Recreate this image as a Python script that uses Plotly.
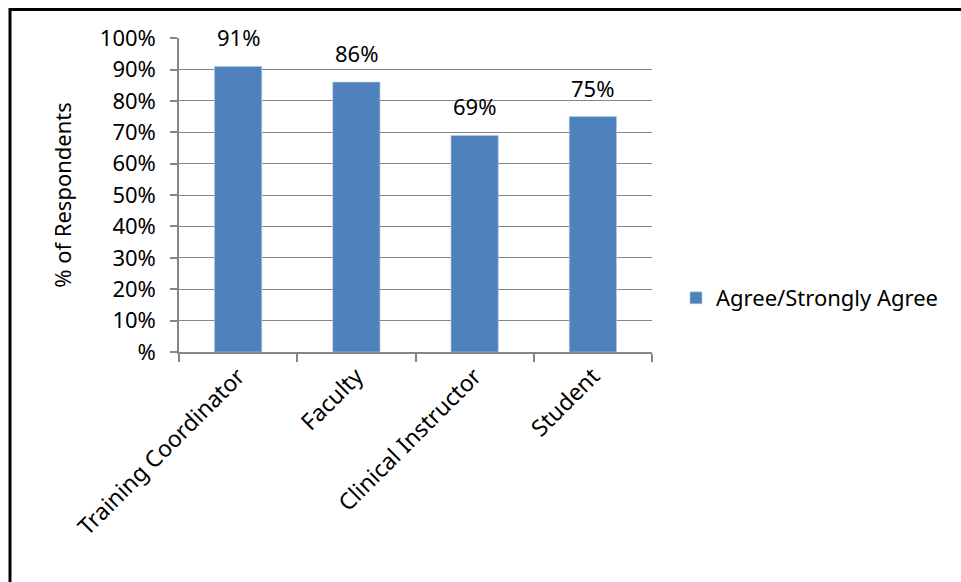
import plotly.graph_objects as go

categories = ["Training Coordinator", "Faculty", "Clinical Instructor", "Student"]
agree_pct = [91, 86, 69, 75]
series_name = "Agree/Strongly Agree"
y_tick_vals = [0, 10, 20, 30, 40, 50, 60, 70, 80, 90, 100]
y_tick_text = ["%", "10%", "20%", "30%", "40%", "50%", "60%", "70%", "80%", "90%", "100%"]

W, H = 961, 582
L, R, T, B = 179, 309, 38, 230
pw, ph = W - L - R, H - T - B

FONT = "Noto Sans"
FS = 22
GRID = "#868686"
BAR = "#4F81BD"

fig = go.Figure(
    go.Bar(
        x=categories,
        y=agree_pct,
        name=series_name,
        marker=dict(color=BAR, line=dict(color="#B9CDE5", width=0.6)),
        showlegend=True,
    )
)

# value labels above each bar
for c, v in zip(categories, agree_pct):
    fig.add_annotation(x=c, y=v, text=f"{v}%", showarrow=False,
                       xanchor="center", yanchor="bottom", yshift=12,
                       font=dict(family=FONT, size=FS, color="#000000"))

def px_to_paper_x(px):
    return (px - L) / pw

def px_to_paper_y(py):
    return (H - B - py) / ph

# outer frame: top and left edges
fig.add_shape(type="line", xref="paper", yref="paper",
              x0=px_to_paper_x(10), x1=px_to_paper_x(970),
              y0=px_to_paper_y(9.5), y1=px_to_paper_y(9.5),
              line=dict(color="#000000", width=3))
fig.add_shape(type="line", xref="paper", yref="paper",
              x0=px_to_paper_x(10), x1=px_to_paper_x(10),
              y0=px_to_paper_y(8), y1=px_to_paper_y(600),
              line=dict(color="#000000", width=3))

fig.update_layout(
    width=W, height=H,
    margin=dict(l=L, r=R, t=T, b=B, pad=0),
    paper_bgcolor="#FFFFFF",
    plot_bgcolor="#FFFFFF",
    bargap=0.6,
    font=dict(family=FONT, size=FS, color="#000000"),
    showlegend=True,
    legend=dict(
        x=px_to_paper_x(676), y=px_to_paper_y(298),
        xanchor="left", yanchor="middle",
        font=dict(family=FONT, size=FS, color="#000000"),
        bgcolor="rgba(0,0,0,0)",
        itemwidth=30,
    ),
    xaxis=dict(
        type="category",
        range=[-0.5, 3.5],
        tickson="boundaries",
        ticks="outside",
        ticklen=8,
        tickwidth=1.5,
        tickcolor=GRID,
        showline=True,
        linecolor=GRID,
        linewidth=1.5,
        showgrid=False,
        tickangle=-45,
        tickfont=dict(family=FONT, size=23, color="#000000"),
    ),
    yaxis=dict(
        range=[0, 100.05],
        tickvals=y_tick_vals,
        ticktext=y_tick_text,
        ticks="outside",
        ticklen=7,
        tickwidth=1.5,
        tickcolor=GRID,
        ticklabelstandoff=10,
        showline=True,
        linecolor=GRID,
        linewidth=1.5,
        showgrid=True,
        gridcolor=GRID,
        gridwidth=1.3,
        zeroline=False,
        tickfont=dict(family=FONT, size=FS, color="#000000"),
        title=dict(text="% of Respondents", font=dict(family=FONT, size=FS, color="#000000"), standoff=22),
    ),
)

fig.write_html("out.html")
